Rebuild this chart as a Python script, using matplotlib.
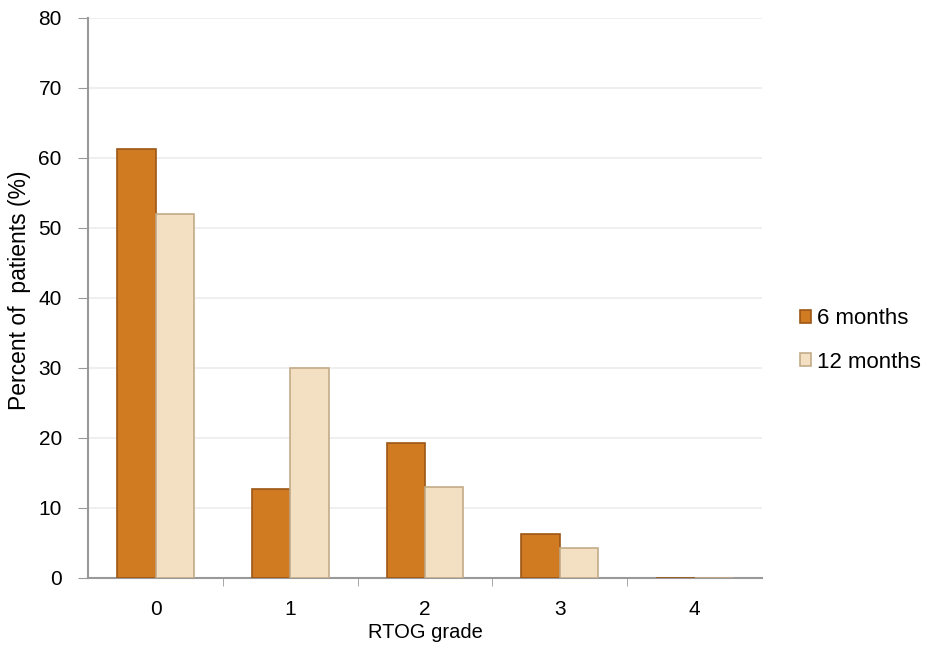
import matplotlib.pyplot as plt
import numpy as np

plt.rcParams['font.family'] = ['Liberation Sans', 'DejaVu Sans']

grades = ['0', '1', '2', '3', '4']
six_months = [61.3, 12.7, 19.2, 6.3, 0]
twelve_months = [52.0, 30.0, 13.0, 4.3, 0]

fig = plt.figure(figsize=(9.28, 6.61), dpi=100)
ax = fig.add_axes([0.095, 0.126, 0.726, 0.847])

x = np.arange(len(grades))
w = 0.285
b1 = ax.bar(x - w / 2, six_months, w, color='#D07A22', edgecolor='#9C5716',
            linewidth=1.2, label='6 months', zorder=3)
b2 = ax.bar(x + w / 2, twelve_months, w, color='#F3E0C3', edgecolor='#C4AB88',
            linewidth=1.2, label='12 months', zorder=3)

ax.set_xlim(-0.5, 4.5)
ax.set_ylim(0, 80)
ax.set_yticks(range(0, 81, 10))
ax.set_xticks(x)
ax.set_xticklabels(grades)
ax.set_xticks(np.arange(0.5, 4.5, 1), minor=True)
ax.tick_params(axis='x', which='major', length=0, labelsize=15, pad=16)
ax.tick_params(axis='x', which='minor', length=6, color='#999999', direction='out')
ax.tick_params(axis='y', length=7, color='#999999', labelsize=15, pad=12)

ax.grid(axis='y', color='#ececec', linewidth=1.2, zorder=0)
for s in ['top', 'right']:
    ax.spines[s].set_visible(False)
ax.spines['left'].set_color('#999999')
ax.spines['bottom'].set_color('#999999')
ax.spines['left'].set_linewidth(1.5)
ax.spines['bottom'].set_linewidth(1.5)

ax.set_xlabel('RTOG grade', fontsize=14.5, labelpad=3)
ax.set_ylabel('Percent of  patients (%)', fontsize=16.5)
ax.yaxis.set_label_coords(-0.085, 0.514)

fig.legend(handles=[b1, b2], loc='center left', bbox_to_anchor=(0.852, 0.485),
           borderaxespad=0, frameon=False, fontsize=16, handlelength=0.5,
           handleheight=0.5, handletextpad=0.3, labelspacing=1.0)

fig.savefig('out.png', dpi=100)
